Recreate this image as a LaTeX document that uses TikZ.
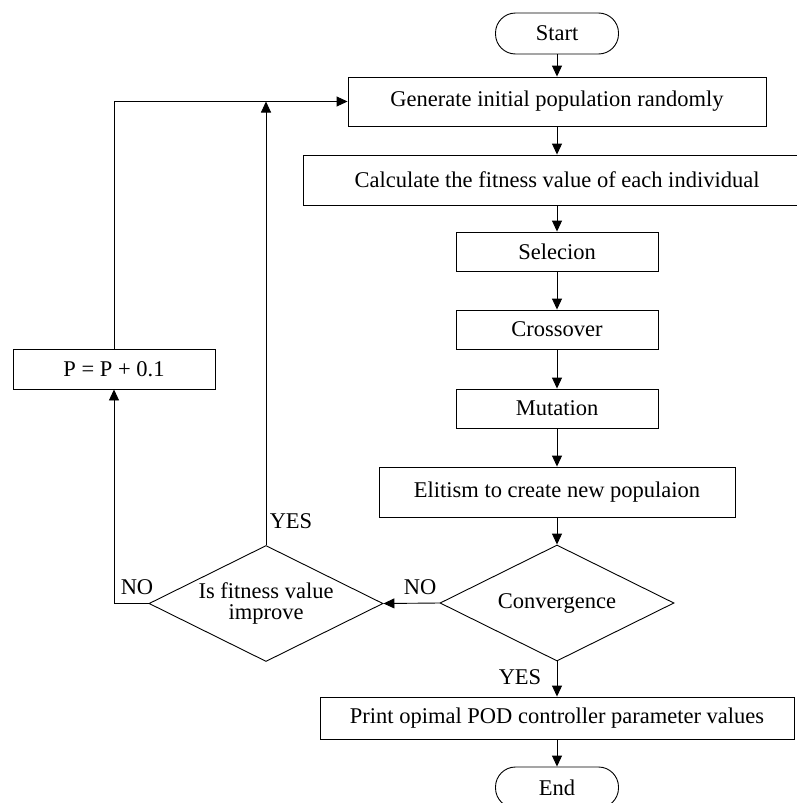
\documentclass[tikz,border=0pt]{standalone}
\usepackage{fontspec}
\setmainfont{Liberation Serif}
\usetikzlibrary{shapes.geometric,arrows.meta}

\tikzset{
    pil/.style={ -{Triangle[length=11pt,width=10pt]}, line width=0.9pt},
    line/.style={ line width=0.9pt},
    %Define style for boxes
    box/.style={ draw, line width=0.9pt, inner sep=0pt},
    term/.style={ draw, line width=0.9pt, rounded corners=20pt, minimum width=123pt, minimum height=41pt},
    decide/.style={ draw, diamond, aspect=2, line width=0.9pt, minimum width=234pt, minimum height=116pt, inner sep=0pt, align=center},
  }

\begin{document}
\begin{tikzpicture}[x=1pt, y=-1pt, font=\fontsize{22.5}{21}\selectfont]
\useasboundingbox (0,0) rectangle (797,803);

% main chain
  \node[term] (start) at (557,33.5) {Start};
  \node[box, minimum width=418pt, minimum height=49pt] (init) at (557,101.5) {Generate initial population randomly};
  \node[box, minimum width=507pt, minimum height=50pt] (calc) at (557,180) {Calculate the fitness value of each individual};
  \node[box, minimum width=202pt, minimum height=39pt] (sel) at (557,251.5) {Selecion};
  \node[box, minimum width=202pt, minimum height=39pt] (cross) at (557,329.5) {Crossover};
  \node[box, minimum width=202pt, minimum height=39pt] (mut) at (557,408.5) {Mutation};
  \node[box, minimum width=356pt, minimum height=50pt] (elit) at (557,492) {Elitism to create new populaion};
  \node[decide] (conv) at (557,603) {Convergence};
  \node[box, minimum width=474pt, minimum height=42pt] (print) at (557,718) {Print opimal POD controller parameter values};
  \node[term] (end) at (557,787.5) {End};

% loop back
  \node[decide] (improve) at (266,603.5) {Is fitness value\\improve};
  \node[box, minimum width=202pt, minimum height=40pt] (pbox) at (114,369) {P = P + 0.1};
  \coordinate (join) at (improve.north |- init.west);

% labels
  \node (yes1) at (291,521) {YES};
  \node (yes2) at (520,677) {YES};
  \node (no1) at (420,587) {NO};
  \node (no2) at (137,587) {NO};

  \draw[pil] (start) -- (init);
  \draw[pil] (init) -- (calc);
  \draw[pil] (calc) -- (sel);
  \draw[pil] (sel) -- (cross);
  \draw[pil] (cross) -- (mut);
  \draw[pil] (mut) -- (elit);
  \draw[pil] (elit) -- (conv);
  \draw[pil] (conv) -- (print);
  \draw[pil] (print) -- (end);

  \draw[pil] (conv.west) -- (improve.east);
  \draw[pil] (improve.west) -| (pbox.south);
  \draw[pil] (improve.north) -- (join);
  \draw[pil] (pbox.north) |- (init.west);

\end{tikzpicture}
\end{document}
